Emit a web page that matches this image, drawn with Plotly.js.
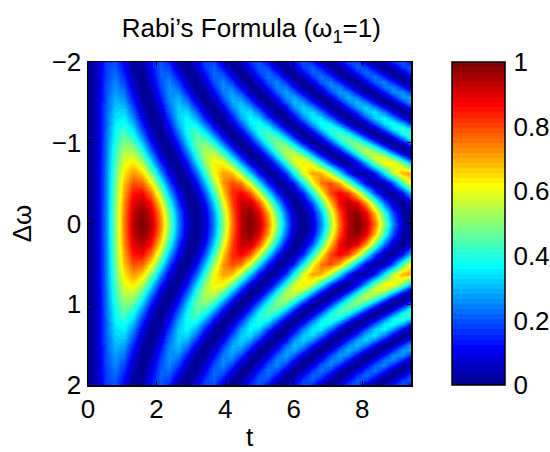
<!DOCTYPE html>
<html><head><meta charset="utf-8">
<script src="https://cdn.plot.ly/plotly-3.0.1.min.js"></script>
<style>html,body{margin:0;padding:0;background:#fff}</style></head>
<body><div id="c" style="width:550px;height:452px"></div>
<script>
const tValues=[0,0.262,0.524,0.785,1.047,1.309,1.571,1.833,2.094,2.356,2.618,2.88,3.142,3.403,3.665,3.927,4.189,4.451,4.712,4.974,5.236,5.498,5.76,6.021,6.283,6.545,6.807,7.069,7.33,7.592,7.854,8.116,8.378,8.639,8.901,9.163,9.425];
const detuning=[-2,-1.9375,-1.875,-1.8125,-1.75,-1.6875,-1.625,-1.5625,-1.5,-1.4375,-1.375,-1.3125,-1.25,-1.1875,-1.125,-1.0625,-1,-0.9375,-0.875,-0.8125,-0.75,-0.625,-0.5,-0.375,-0.25,-0.125,0,0.125,0.25,0.375,0.5,0.625,0.75,0.8125,0.875,0.9375,1,1.0625,1.125,1.1875,1.25,1.3125,1.375,1.4375,1.5,1.5625,1.625,1.6875,1.75,1.8125,1.875,1.9375,2];
const d000=[0,.067,.25,.5,.75,.933,1,.933,.75,.5,.25,.067,0,.067,.25,.5,.75,.933,1,.933,.75,.5,.25,.067,0,.067,.25,.5,.75,.933,1,.933,.75,.5,.25,.067,0];
const d0125=[0,.067,.25,.498,.745,.924,.985,.911,.724,.474,.229,.056,0,.08,.27,.522,.766,.935,.983,.898,.703,.45,.209,.045,.002,.093,.292,.546,.785,.945,.981,.884,.681,.426,.19,.035,.005];
const d025=[0,.067,.248,.493,.732,.896,.939,.849,.652,.402,.173,.028,.009,.121,.332,.583,.802,.927,.922,.788,.565,.314,.109,.006,.035,.188,.421,.669,.86,.94,.887,.716,.474,.232,.057,0,.077];
const d0375=[0,.067,.247,.485,.709,.851,.867,.752,.542,.3,.1,.004,.039,.196,.427,.662,.828,.875,.79,.597,.356,.14,.015,.019,.151,.37,.61,.798,.876,.821,.65,.413,.185,.034,.006,.11,.313];
const d050=[0,.067,.244,.474,.678,.791,.773,.631,.412,.189,.036,.005,.105,.304,.534,.72,.799,.746,.577,.349,.138,.015,.019,.15,.365,.591,.753,.798,.71,.519,.288,.095,.003,.043,.202,.428,.644];
const d0625=[0,.067,.241,.46,.641,.719,.664,.496,.279,.091,.002,.046,.205,.421,.615,.715,.683,.532,.317,.118,.008,.028,.171,.383,.586,.706,.698,.565,.356,.149,.019,.015,.139,.344,.555,.694,.709];
const d075=[0,.066,.237,.443,.597,.637,.546,.362,.16,.024,.011,.125,.32,.515,.629,.616,.48,.278,.094,.003,.043,.197,.403,.574,.64,.574,.403,.197,.043,.003,.094,.278,.48,.616,.629,.515,.32];
const d08125=[0,.066,.235,.433,.573,.594,.487,.298,.111,.007,.032,.175,.373,.54,.602,.533,.361,.164,.027,.01,.12,.31,.496,.597,.568,.422,.223,.059,0,.074,.247,.444,.578,.591,.477,.286,.102];
const d0875=[0,.066,.233,.423,.548,.551,.428,.239,.07,0,.062,.227,.418,.546,.553,.434,.245,.074,0,.058,.221,.412,.544,.554,.439,.251,.078,.001,.055,.215,.407,.541,.556,.444,.257,.082,.001];
const d09375=[0,.066,.23,.413,.523,.506,.371,.185,.038,.004,.1,.277,.449,.531,.482,.327,.141,.018,.017,.138,.323,.48,.532,.452,.281,.102,.005,.036,.181,.368,.505,.524,.415,.234,.068,0,.063];
const d100=[0,.065,.228,.401,.496,.462,.317,.137,.016,.018,.141,.322,.464,.495,.397,.222,.062,0,.069,.233,.406,.497,.459,.311,.132,.014,.02,.146,.327,.467,.494,.393,.217,.058,0,.073,.238];
const d10625=[0,.065,.225,.39,.469,.418,.265,.096,.004,.04,.185,.358,.462,.44,.304,.13,.014,.02,.147,.322,.449,.457,.341,.167,.03,.007,.111,.283,.429,.467,.376,.206,.053,.001,.078,.243,.403];
const d1125=[0,.065,.222,.378,.441,.375,.217,.062,0,.068,.227,.381,.441,.371,.212,.058,0,.072,.232,.385,.441,.368,.207,.055,0,.076,.236,.388,.441,.364,.203,.052,.001,.079,.241,.391,.44];
const d11875=[0,.065,.219,.366,.414,.333,.173,.035,.005,.101,.264,.391,.404,.294,.13,.014,.02,.143,.306,.408,.384,.25,.09,.002,.044,.187,.343,.415,.357,.205,.055,0,.075,.233,.374,.412,.322];
const d125=[0,.065,.216,.353,.386,.292,.134,.017,.017,.135,.293,.386,.352,.214,.064,0,.066,.217,.354,.386,.291,.133,.016,.018,.137,.294,.386,.352,.213,.063,0,.066,.218,.355,.385,.29,.132];
const d13125=[0,.064,.212,.34,.358,.254,.1,.005,.035,.169,.313,.367,.292,.141,.02,.014,.127,.28,.365,.323,.184,.044,.002,.088,.241,.353,.347,.226,.076,.001,.054,.198,.332,.362,.267,.113,.009];
const d1375=[0,.064,.209,.327,.331,.218,.071,0,.057,.2,.323,.334,.226,.079,.001,.051,.191,.318,.338,.235,.086,.002,.045,.182,.313,.34,.243,.094,.004,.039,.174,.308,.342,.251,.102,.006,.033];
const d14375=[0,.064,.205,.314,.304,.184,.047,.001,.082,.226,.321,.292,.162,.033,.006,.102,.246,.325,.277,.14,.021,.013,.123,.264,.326,.26,.118,.011,.023,.145,.28,.324,.242,.098,.005,.036,.166];
const d150=[0,.064,.202,.3,.278,.153,.029,.008,.108,.246,.308,.242,.104,.007,.031,.157,.28,.299,.197,.06,0,.067,.206,.302,.275,.148,.026,.01,.112,.249,.307,.238,.1,.005,.034,.161,.283];
const d15625=[0,.063,.198,.287,.252,.124,.015,.019,.133,.258,.285,.19,.056,0,.071,.206,.289,.246,.116,.011,.024,.142,.263,.282,.181,.049,.001,.078,.214,.29,.24,.107,.008,.029,.151,.268,.279];
const d1625=[0,.063,.194,.273,.227,.099,.006,.033,.156,.262,.253,.138,.022,.012,.117,.24,.27,.177,.048,.001,.079,.21,.275,.213,.082,.002,.046,.174,.268,.243,.12,.013,.02,.135,.251,.263,.16];
const d16875=[0,.063,.19,.26,.204,.077,.001,.05,.176,.258,.216,.091,.004,.038,.161,.254,.227,.107,.008,.028,.146,.248,.237,.122,.015,.019,.13,.241,.245,.138,.023,.011,.114,.232,.251,.153,.033];
const d175=[0,.062,.186,.246,.181,.057,0,.068,.191,.246,.176,.052,.001,.073,.196,.245,.17,.047,.001,.079,.201,.244,.165,.043,.002,.084,.206,.243,.159,.038,.004,.09,.21,.242,.153,.034,.005];
const d18125=[0,.062,.182,.233,.16,.041,.003,.086,.202,.227,.135,.023,.011,.111,.217,.216,.109,.01,.025,.137,.228,.2,.084,.002,.042,.161,.233,.181,.06,0,.064,.184,.232,.158,.039,.003,.088];
const d1875=[0,.062,.178,.22,.139,.027,.008,.104,.207,.203,.096,.006,.032,.146,.22,.172,.055,0,.068,.184,.218,.132,.023,.011,.111,.21,.199,.089,.004,.038,.153,.221,.166,.049,.001,.075,.189];
const d19375=[0,.061,.174,.206,.12,.017,.016,.12,.206,.175,.062,0,.061,.173,.207,.121,.017,.016,.119,.206,.175,.063,0,.06,.173,.207,.122,.018,.015,.118,.205,.176,.064,0,.059,.172,.207];
const d200=[0,.061,.17,.193,.103,.009,.026,.134,.2,.144,.035,.005,.091,.188,.178,.072,.001,.051,.161,.197,.115,.015,.019,.122,.198,.155,.044,.002,.08,.182,.184,.084,.003,.041,.151,.199,.126];
const zRows=[d200,d19375,d1875,d18125,d175,d16875,d1625,d15625,d150,d14375,d1375,d13125,d125,d11875,d1125,d10625,d100,d09375,d0875,d08125,d075,d0625,d050,d0375,d025,d0125,d000,d0125,d025,d0375,d050,d0625,d075,d08125,d0875,d09375,d100,d10625,d1125,d11875,d125,d13125,d1375,d14375,d150,d15625,d1625,d16875,d175,d18125,d1875,d19375,d200];
const xTicks=[0,2,4,6,8];
const yTicks=[-2,-1,0,1,2];
const barTicks=[0,0.2,0.4,0.6,0.8,1];
const titleText="Rabi’s Formula (ω<sub>1</sub>=1)";

function jetStep(i){
  const x=(i+1)/64;
  const f=v=>Math.round(255*Math.max(0,Math.min(1,v)));
  return `rgb(${f(Math.min(4*x-1.5,-4*x+4.5))},${f(Math.min(4*x-0.5,-4*x+3.5))},${f(Math.min(4*x+0.5,-4*x+2.5))})`;
}
const jet=[];
for(let i=0;i<64;i++){jet.push([i/64,jetStep(i)]);jet.push([(i+1)/64,jetStep(i)]);}

const font="Liberation Sans, Arial, sans-serif";
const axisCommon={showgrid:false,zeroline:false,showline:true,linecolor:'#000',linewidth:1.5,mirror:'allticks',ticks:'inside',ticklen:4,tickwidth:1,tickcolor:'#000',tickfont:{family:font,size:26,color:'#000'}};
const inner=barTicks.slice(1,-1);
const barLeftTicks=inner.map(v=>({type:'line',xref:'paper',yref:'paper',x0:1.127,x1:1.136,y0:v,y1:v,line:{color:'#000',width:1}}));
const barRightTicks=inner.map(v=>({type:'line',xref:'paper',yref:'paper',x0:1.282,x1:1.291,y0:v,y1:v,line:{color:'#000',width:1}}));
Plotly.newPlot('c',[{type:'heatmap',x:tValues,y:detuning,z:zRows,zmin:0,zmax:1,zsmooth:'best',colorscale:jet,
  colorbar:{x:1.127,xanchor:'left',xpad:0,ypad:0,y:0.5,yanchor:'middle',len:1,thickness:53,outlinecolor:'#000',outlinewidth:1.5,tickmode:'array',tickvals:barTicks,ticktext:['0','0.2','0.4','0.6','0.8','1'],ticks:'outside',ticklen:3,tickwidth:1,tickcolor:'rgba(0,0,0,0)',tickfont:{family:font,size:26,color:'#000'}}}],
 {width:550,height:452,paper_bgcolor:'#fff',plot_bgcolor:'#fff',margin:{l:88,r:139,t:62,b:67,autoexpand:false},
  font:{family:font,size:26,color:'#000'},
  title:{text:titleText,font:{family:font,size:26,color:'#000'},x:0.457,xanchor:'center',y:0.938,yanchor:'middle'},
  xaxis:{...axisCommon,range:[0,9.42],tickmode:'array',tickvals:xTicks,ticktext:xTicks.map(String),title:{text:'t',standoff:11,font:{family:font,size:26,color:'#000'}}},
  yaxis:{...axisCommon,range:[2,-2],tickmode:'array',tickvals:yTicks,title:{text:'Δω',standoff:12,font:{family:font,size:26,color:'#000'}}},
  shapes:barLeftTicks.concat(barRightTicks)},
 {displayModeBar:false,staticPlot:true});
</script></body></html>
